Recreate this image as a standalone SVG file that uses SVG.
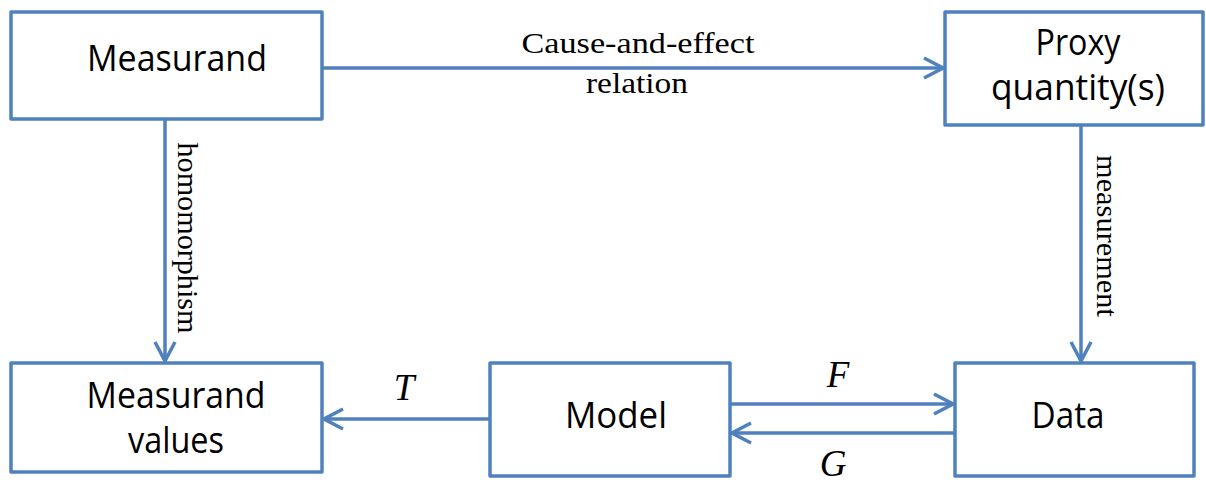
<svg xmlns="http://www.w3.org/2000/svg" width="1206" height="484" viewBox="0 0 1206 484">
<style>
.box{fill:#fff;stroke:#4F81BD;stroke-width:3.5;stroke-linejoin:round}
.con{fill:none;stroke:#4F81BD;stroke-width:3.5}
.lbl{font-family:"Open Sans","Noto Sans",sans-serif;font-size:36px;fill:#000;text-anchor:middle}
.tl{font-family:"Liberation Serif","Times New Roman",serif;font-size:30px;fill:#000;text-anchor:middle}
.it{font-family:"Liberation Serif","Times New Roman",serif;font-size:37px;font-style:italic;fill:#000;text-anchor:middle}
</style>
<defs>
<marker id="arr" markerUnits="userSpaceOnUse" markerWidth="26" markerHeight="26" viewBox="-23 -13 26 26" refX="0" refY="0" orient="auto">
<path d="M -19 -10 L 0 0 L -19 10" fill="none" stroke="#4F81BD" stroke-width="3.5" stroke-linejoin="miter"/>
</marker>
</defs>
<rect width="1206" height="484" fill="#fff"/>
<g id="connectors">
<line class="con" x1="322" y1="68" x2="943" y2="68" marker-end="url(#arr)"/>
<line class="con" x1="165" y1="119" x2="165" y2="361" marker-end="url(#arr)"/>
<line class="con" x1="1081" y1="125" x2="1081" y2="361" marker-end="url(#arr)"/>
<line class="con" x1="490" y1="419" x2="324" y2="419" marker-end="url(#arr)"/>
<line class="con" x1="730" y1="404" x2="953" y2="404" marker-end="url(#arr)"/>
<line class="con" x1="955" y1="433" x2="732" y2="433" marker-end="url(#arr)"/>
<text class="tl" x="638" y="53" textLength="233" lengthAdjust="spacingAndGlyphs">Cause-and-effect</text>
<text class="tl" x="637" y="93" textLength="102" lengthAdjust="spacingAndGlyphs">relation</text>
<text class="tl" transform="translate(178,238) rotate(90)" textLength="191" lengthAdjust="spacingAndGlyphs">homomorphism</text>
<text class="tl" transform="translate(1097,236) rotate(90)" textLength="162" lengthAdjust="spacingAndGlyphs">measurement</text>
<text class="it" x="404" y="400">T</text>
<text class="it" x="838" y="387">F</text>
<text class="it" x="833" y="476">G</text>
</g>
<g id="measurand">
<rect class="box" x="11" y="12" width="311" height="107"/>
<text class="lbl" x="177" y="71" textLength="180" lengthAdjust="spacingAndGlyphs">Measurand</text>
</g>
<g id="proxy">
<rect class="box" x="945" y="12" width="258" height="113"/>
<text class="lbl" x="1078" y="55" textLength="85" lengthAdjust="spacingAndGlyphs">Proxy</text>
<text class="lbl" x="1078" y="100" textLength="174" lengthAdjust="spacingAndGlyphs">quantity(s)</text>
</g>
<g id="measurand-values">
<rect class="box" x="11" y="363" width="311" height="109"/>
<text class="lbl" x="176" y="408" textLength="179" lengthAdjust="spacingAndGlyphs">Measurand</text>
<text class="lbl" x="176" y="453" textLength="96" lengthAdjust="spacingAndGlyphs">values</text>
</g>
<g id="model">
<rect class="box" x="490" y="363" width="240" height="113"/>
<text class="lbl" x="616" y="428" textLength="102" lengthAdjust="spacingAndGlyphs">Model</text>
</g>
<g id="data">
<rect class="box" x="955" y="363" width="239" height="113"/>
<text class="lbl" x="1068" y="428" textLength="73" lengthAdjust="spacingAndGlyphs">Data</text>
</g>
</svg>
